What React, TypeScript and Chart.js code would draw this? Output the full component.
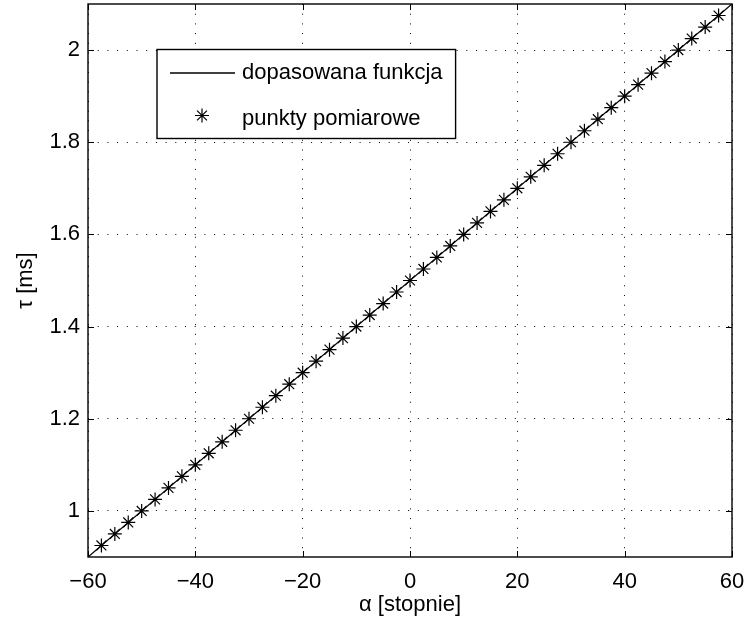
import React, { useEffect, useRef } from 'react';
import { Chart, registerables } from 'chart.js';

Chart.register(...registerables);

// ---- data ----
const alphaDeg = [
  -57.5, -55, -52.5, -50, -47.5, -45, -42.5, -40, -37.5, -35, -32.5, -30,
  -27.5, -25, -22.5, -20, -17.5, -15, -12.5, -10, -7.5, -5, -2.5, 0,
  2.5, 5, 7.5, 10, 12.5, 15, 17.5, 20, 22.5, 25, 27.5, 30, 32.5, 35,
  37.5, 40, 42.5, 45, 47.5, 50, 52.5, 55, 57.5,
];
const tauMs = [
  0.925, 0.95, 0.975, 1.0, 1.025, 1.05, 1.075, 1.1, 1.125, 1.15, 1.175, 1.2,
  1.225, 1.25, 1.275, 1.3, 1.325, 1.35, 1.375, 1.4, 1.425, 1.45, 1.475, 1.5,
  1.525, 1.55, 1.575, 1.6, 1.625, 1.65, 1.675, 1.7, 1.725, 1.75, 1.775, 1.8,
  1.825, 1.85, 1.875, 1.9, 1.925, 1.95, 1.975, 2.0, 2.025, 2.05, 2.075,
];
const fitAlpha = [-60, 60];
const fitTau = [0.9, 2.1];
const xTicks = [-60, -40, -20, 0, 20, 40, 60];
const yTicks = [1, 1.2, 1.4, 1.6, 1.8, 2];
const legendLabels = ['dopasowana funkcja', 'punkty pomiarowe'];
const xTitle = 'α [stopnie]';
const yTitle = 'τ [ms]';

const FONT_FAMILY = '"Liberation Sans", Arial, Helvetica, sans-serif';
const FONT_SIZE = 22;

function drawStar(ctx: CanvasRenderingContext2D, x: number, y: number, r: number) {
  const d = r * Math.cos(Math.PI / 4);
  ctx.beginPath();
  ctx.moveTo(x - r, y); ctx.lineTo(x + r, y);
  ctx.moveTo(x, y - r); ctx.lineTo(x, y + r);
  ctx.moveTo(x - d, y - d); ctx.lineTo(x + d, y + d);
  ctx.moveTo(x - d, y + d); ctx.lineTo(x + d, y - d);
  ctx.stroke();
}

const framePlugin = {
  id: 'matlabFrame',
  afterDraw(chart: any) {
    const { ctx, chartArea: a, scales } = chart;
    const xs = scales.x;
    const ys = scales.y;
    ctx.save();
    ctx.setLineDash([]);
    ctx.strokeStyle = '#000';
    ctx.lineWidth = 1;
    const tl = 6;
    ctx.beginPath();
    xTicks.forEach((v) => {
      const px = Math.round(xs.getPixelForValue(v)) + 0.5;
      ctx.moveTo(px, a.bottom); ctx.lineTo(px, a.bottom - tl);
      ctx.moveTo(px, a.top); ctx.lineTo(px, a.top + tl);
    });
    yTicks.forEach((v) => {
      const py = Math.round(ys.getPixelForValue(v)) + 0.5;
      ctx.moveTo(a.left, py); ctx.lineTo(a.left + tl, py);
      ctx.moveTo(a.right, py); ctx.lineTo(a.right - tl, py);
    });
    ctx.stroke();
    ctx.lineWidth = 1.4;
    ctx.strokeRect(a.left, a.top, a.right - a.left, a.bottom - a.top);

    // legend
    const lx = a.left + 69;
    const ly = a.top + 45.5;
    ctx.font = `${FONT_SIZE}px ${FONT_FAMILY}`;
    const tw = Math.max(...legendLabels.map((t) => ctx.measureText(t).width));
    const textX = lx + 85;
    const w = textX - lx + tw + 13;
    const h = 89;
    ctx.fillStyle = '#fff';
    ctx.fillRect(lx, ly, w, h);
    ctx.lineWidth = 1.4;
    ctx.strokeRect(lx, ly, w, h);
    ctx.lineWidth = 1.3;
    ctx.beginPath();
    ctx.moveTo(lx + 13, ly + 23.5);
    ctx.lineTo(lx + 78, ly + 23.5);
    ctx.stroke();
    ctx.lineWidth = 1.2;
    drawStar(ctx, lx + 45, ly + 66, 7);
    ctx.fillStyle = '#000';
    ctx.textAlign = 'left';
    ctx.textBaseline = 'alphabetic';
    ctx.fillText(legendLabels[0], textX, ly + 29.5);
    ctx.fillText(legendLabels[1], textX, ly + 75.5);
    ctx.restore();
  },
};

const fmtX = (v: number) => (v < 0 ? '\u2212' + Math.abs(v) : String(v));
const fmtY = (v: number) => String(Number(v.toFixed(1)));

export default function App() {
  const ref = useRef<HTMLCanvasElement>(null);
  useEffect(() => {
    document.body.style.margin = '0';
    const font = { family: FONT_FAMILY, size: FONT_SIZE };
    const chart = new Chart(ref.current as HTMLCanvasElement, {
      type: 'scatter',
      data: {
        datasets: [
          {
            label: legendLabels[0],
            data: fitAlpha.map((x, i) => ({ x, y: fitTau[i] })),
            showLine: true,
            borderColor: '#000',
            borderWidth: 1.3,
            pointRadius: 0,
            fill: false,
          },
          {
            label: legendLabels[1],
            data: alphaDeg.map((x, i) => ({ x, y: tauMs[i] })),
            showLine: false,
            pointStyle: 'star',
            pointRadius: 7,
            pointBorderWidth: 1.2,
            borderColor: '#000',
            backgroundColor: 'rgba(0,0,0,0)',
          },
        ],
      },
      plugins: [framePlugin],
      options: {
        responsive: false,
        animation: false,
        devicePixelRatio: 1,
        layout: { autoPadding: false, padding: { left: 0, top: 4, right: 15, bottom: 0 } },
        plugins: { legend: { display: false }, tooltip: { enabled: false } },
        scales: {
          x: {
            type: 'linear',
            position: 'bottom',
            min: -60,
            max: 60,
            afterBuildTicks: (axis: any) => {
              axis.ticks = xTicks.map((v) => ({ value: v }));
            },
            afterFit: (axis: any) => {
              axis.height = 61;
              axis.paddingLeft = 0;
              axis.paddingRight = 0;
              axis.paddingTop = 0;
              axis.paddingBottom = 0;
            },
            ticks: {
              callback: (v: any) => fmtX(Number(v)),
              font,
              color: '#000',
              padding: 12,
              maxRotation: 0,
              autoSkip: false,
            },
            grid: { color: '#000', lineWidth: 1, drawTicks: false },
            border: { display: false, dash: [1, 8.7] },
            title: {
              display: true,
              text: xTitle,
              font,
              color: '#000',
              padding: { top: 0, bottom: 0 },
            },
          },
          y: {
            type: 'linear',
            position: 'left',
            min: 0.9,
            max: 2.1,
            afterBuildTicks: (axis: any) => {
              axis.ticks = yTicks.map((v) => ({ value: v }));
            },
            afterFit: (axis: any) => {
              axis.width = 88;
              axis.paddingLeft = 0;
              axis.paddingRight = 0;
              axis.paddingTop = 0;
              axis.paddingBottom = 0;
            },
            ticks: {
              callback: (v: any) => fmtY(Number(v)),
              font,
              color: '#000',
              padding: 8,
              autoSkip: false,
            },
            grid: { color: '#000', lineWidth: 1, drawTicks: false },
            border: { display: false, dash: [1, 8.7] },
            title: {
              display: true,
              text: yTitle,
              font,
              color: '#000',
              padding: { top: 13, bottom: 0 },
            },
          },
        },
      },
    } as any);
    return () => chart.destroy();
  }, []);
  return (
    <div style={{ width: 747, height: 618 }}>
      <canvas ref={ref} width={747} height={618} style={{ display: 'block' }} />
    </div>
  );
}
